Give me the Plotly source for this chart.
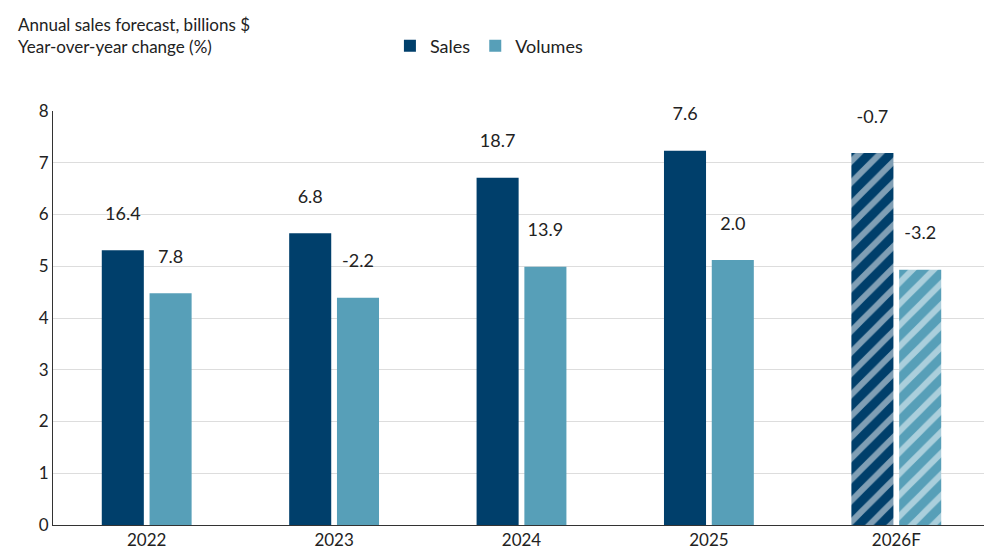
import plotly.graph_objects as go

years = ["2022", "2023", "2024", "2025", "2026F"]
sales = [5.31, 5.64, 6.71, 7.23, 7.19]
volumes = [4.48, 4.39, 4.99, 5.12, 4.93]
sales_chg = ["16.4", "6.8", "18.7", "7.6", "-0.7"]
vol_chg = ["7.8", "-2.2", "13.9", "2.0", "-3.2"]
hatch = ["", "", "", "", "/"]

font = "Lato, Roboto, sans-serif"

fig = go.Figure()
for name, vals, labels, color in [("Sales", sales, sales_chg, "#003f6b"),
                                  ("Volumes", volumes, vol_chg, "#579fb8")]:
    fig.add_trace(go.Bar(
        x=years, y=vals, name=name, text=[t + "<br> " for t in labels],
        textposition="outside", textfont=dict(size=18, color="#222"),
        cliponaxis=False,
        marker=dict(color=color, line=dict(width=0),
                    pattern=dict(shape=hatch, fgcolor="white", bgcolor=color,
                                 size=15, solidity=0.4))))

fig.update_layout(
    width=992, height=558,
    barmode="group", bargap=0.49, bargroupgap=0.12,
    plot_bgcolor="white", paper_bgcolor="white",
    font=dict(family=font, size=16, color="#222"),
    margin=dict(l=45, r=10, t=103, b=41, autoexpand=False),
    legend=dict(orientation="h", x=0.385, y=0.965, xref="container", yref="container",
                xanchor="left", yanchor="top", font=dict(size=18)),
    annotations=[dict(text="Annual sales forecast, billions $<br>Year-over-year change (%)",
                      xref="paper", yref="paper", x=-0.04, y=1.24,
                      xanchor="left", yanchor="top", align="left",
                      showarrow=False, font=dict(size=17))],
)
fig.update_yaxes(range=[0, 8], dtick=1, showgrid=True, gridcolor="#dddddd",
                 showline=True, linecolor="#333", ticks="", tickfont=dict(size=17))
fig.update_xaxes(showline=True, linecolor="#333", tickfont=dict(size=17))
fig.write_html("out.html")
